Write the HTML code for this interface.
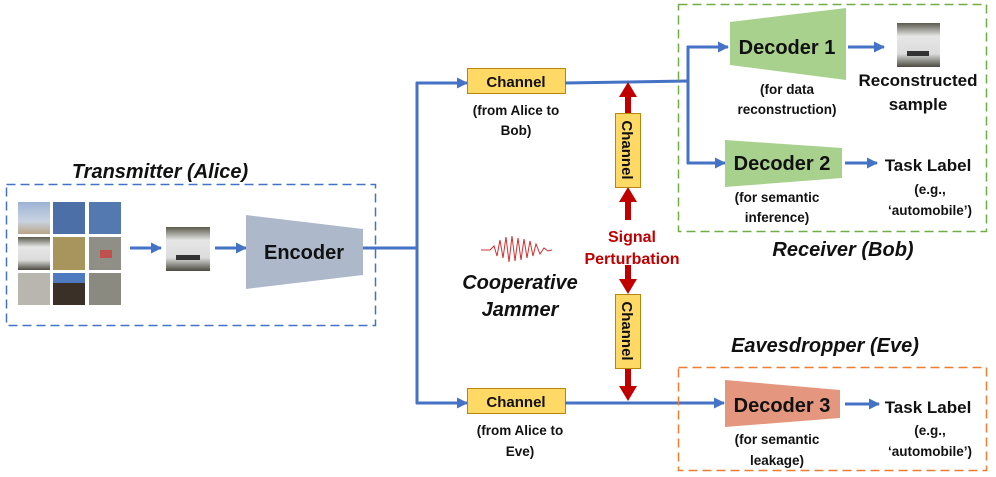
<!DOCTYPE html>
<html><head><meta charset="utf-8"><style>
html,body{margin:0;padding:0;background:#fff;}
svg{display:block;font-family:"Liberation Sans",sans-serif;}
.b{font-weight:bold;fill:#111;}
.i{font-weight:bold;font-style:italic;fill:#111;}
</style></head><body>
<svg width="996" height="477" viewBox="0 0 996 477" xmlns="http://www.w3.org/2000/svg">
<defs>
<marker id="ab" markerWidth="11" markerHeight="11" refX="10" refY="5.5" orient="auto" markerUnits="userSpaceOnUse"><path d="M0,0 L11,5.5 L0,11 z" fill="#4472c4"/></marker>
<linearGradient id="sky" x1="0" y1="0" x2="0" y2="1"><stop offset="0" stop-color="#9db3d6"/><stop offset="0.6" stop-color="#c9d3e0"/><stop offset="1" stop-color="#b8a588"/></linearGradient>
<linearGradient id="car" x1="0" y1="0" x2="0" y2="1"><stop offset="0" stop-color="#5a5a4c"/><stop offset="0.3" stop-color="#e6e6e6"/><stop offset="0.7" stop-color="#dcdcdc"/><stop offset="1" stop-color="#4a4a40"/></linearGradient>
</defs>

<!-- Transmitter -->
<text x="160" y="178" font-size="20" class="i" text-anchor="middle">Transmitter (Alice)</text>
<rect x="6.5" y="184.5" width="369" height="141" fill="none" stroke="#4472c4" stroke-width="1.5" stroke-dasharray="9,5"/>
<rect x="18" y="202" width="32" height="32" fill="url(#sky)"/>
<rect x="53" y="202" width="32" height="32" fill="#4d6fa8"/>
<rect x="89" y="202" width="32" height="32" fill="#5479b0"/>
<rect x="18" y="237" width="32" height="33" fill="url(#car)"/>
<rect x="53" y="237" width="32" height="33" fill="#a8955c"/>
<rect x="89" y="237" width="32" height="33" fill="#8f8f88"/>
<rect x="100" y="250" width="12" height="8" fill="#c0504d"/>
<rect x="18" y="273" width="32" height="32" fill="#b9b6b0"/>
<rect x="53" y="273" width="32" height="32" fill="#3b3028"/>
<rect x="53" y="273" width="32" height="10" fill="#4f7ac0"/>
<rect x="89" y="273" width="32" height="32" fill="#8a8a80"/>
<line x1="130" y1="248" x2="161" y2="248" stroke="#4472c4" stroke-width="3" marker-end="url(#ab)"/>
<rect x="166" y="227" width="44" height="44" fill="url(#car)"/>
<rect x="176" y="255" width="24" height="5" fill="#333"/>
<line x1="215" y1="248" x2="246" y2="248" stroke="#4472c4" stroke-width="3" marker-end="url(#ab)"/>
<polygon points="246,215 363,229 363,275 246,289" fill="#adb9ca"/>
<text x="304" y="259" font-size="20" class="b" text-anchor="middle">Encoder</text>

<polyline points="363,248 417,248" fill="none" stroke="#4472c4" stroke-width="3"/>
<line x1="417" y1="82" x2="417" y2="404" stroke="#4472c4" stroke-width="3"/>
<line x1="416" y1="83" x2="467" y2="83" stroke="#4472c4" stroke-width="3" marker-end="url(#ab)"/>
<line x1="416" y1="403" x2="467" y2="403" stroke="#4472c4" stroke-width="3" marker-end="url(#ab)"/>

<rect x="467.5" y="68.5" width="98" height="25" fill="#ffd966" stroke="#b8860b"/>
<text x="516" y="87" font-size="15" class="b" text-anchor="middle">Channel</text>
<text x="516" y="115" font-size="13.5" class="b" text-anchor="middle">(from Alice to</text>
<text x="516" y="135" font-size="13.5" class="b" text-anchor="middle">Bob)</text>
<rect x="467.5" y="388.5" width="98" height="25" fill="#ffd966" stroke="#b8860b"/>
<text x="516" y="407" font-size="15" class="b" text-anchor="middle">Channel</text>
<text x="520" y="435" font-size="13.5" class="b" text-anchor="middle">(from Alice to</text>
<text x="520" y="456" font-size="13.5" class="b" text-anchor="middle">Eve)</text>

<polyline points="565,83 688,81" fill="none" stroke="#4472c4" stroke-width="3"/>
<line x1="688" y1="46" x2="688" y2="164" stroke="#4472c4" stroke-width="3"/>
<line x1="687" y1="47" x2="728" y2="47" stroke="#4472c4" stroke-width="3" marker-end="url(#ab)"/>
<line x1="687" y1="163" x2="725" y2="163" stroke="#4472c4" stroke-width="3" marker-end="url(#ab)"/>
<line x1="565" y1="403" x2="724" y2="403" stroke="#4472c4" stroke-width="3" marker-end="url(#ab)"/>

<g fill="#c00000">
<rect x="625" y="95" width="6" height="20"/><polygon points="619,97 637,97 628,82"/>
<rect x="625" y="200" width="6" height="20"/><polygon points="619,202 637,202 628,187"/>
<rect x="625" y="265" width="6" height="16"/><polygon points="619,279 637,279 628,294"/>
<rect x="625" y="368" width="6" height="20"/><polygon points="619,386 637,386 628,401"/>
</g>
<rect x="615.5" y="113.5" width="25" height="74" fill="#ffd966" stroke="#b8860b"/>
<text transform="translate(622,150) rotate(90)" font-size="15" class="b" text-anchor="middle">Channel</text>
<rect x="615.5" y="294.5" width="25" height="74" fill="#ffd966" stroke="#b8860b"/>
<text transform="translate(622,331) rotate(90)" font-size="15" class="b" text-anchor="middle">Channel</text>
<text x="632" y="242" font-size="16" font-weight="bold" fill="#c00000" text-anchor="middle">Signal</text>
<text x="632" y="264" font-size="16" font-weight="bold" fill="#c00000" text-anchor="middle">Perturbation</text>
<polyline points="481,250 490,250 494,246 497,256 500,240 503,258 506,237 509,262 512,236 515,261 518,238 521,260 524,239 527,258 530,241 533,256 536,244 540,254 544,248 548,251 552,250" fill="none" stroke="#d03030" stroke-width="1"/>
<text x="520" y="289" font-size="20" class="i" text-anchor="middle">Cooperative</text>
<text x="520" y="316" font-size="20" class="i" text-anchor="middle">Jammer</text>

<rect x="678.5" y="4.5" width="308" height="227" fill="none" stroke="#70ad47" stroke-width="1.5" stroke-dasharray="9,5"/>
<polygon points="730,22 846,8 846,80 730,65" fill="#a9d18e"/>
<text x="787" y="54" font-size="20" class="b" text-anchor="middle">Decoder 1</text>
<text x="787" y="94" font-size="13.5" class="b" text-anchor="middle">(for data</text>
<text x="787" y="114" font-size="13.5" class="b" text-anchor="middle">reconstruction)</text>
<line x1="848" y1="47" x2="884" y2="47" stroke="#4472c4" stroke-width="3" marker-end="url(#ab)"/>
<rect x="897" y="23" width="43" height="44" fill="url(#car)"/>
<rect x="907" y="51" width="22" height="5" fill="#333"/>
<text x="918" y="86" font-size="17" class="b" text-anchor="middle">Reconstructed</text>
<text x="918" y="110" font-size="17" class="b" text-anchor="middle">sample</text>
<polygon points="725,140 842,148 842,178 725,187" fill="#a9d18e"/>
<text x="782" y="170" font-size="20" class="b" text-anchor="middle">Decoder 2</text>
<text x="777" y="202" font-size="13.5" class="b" text-anchor="middle">(for semantic</text>
<text x="777" y="222" font-size="13.5" class="b" text-anchor="middle">inference)</text>
<line x1="845" y1="163" x2="877" y2="163" stroke="#4472c4" stroke-width="3" marker-end="url(#ab)"/>
<text x="928" y="171" font-size="17" class="b" text-anchor="middle">Task Label</text>
<text x="930" y="194" font-size="13.5" class="b" text-anchor="middle">(e.g.,</text>
<text x="930" y="215" font-size="13.5" class="b" text-anchor="middle">‘automobile’)</text>
<text x="843" y="256" font-size="20" class="i" text-anchor="middle">Receiver (Bob)</text>

<text x="825" y="352" font-size="20" class="i" text-anchor="middle">Eavesdropper (Eve)</text>
<rect x="678.5" y="367.5" width="308" height="103" fill="none" stroke="#ed7d31" stroke-width="1.5" stroke-dasharray="9,5"/>
<polygon points="725,380 840,390 840,418 725,427" fill="#e5967f"/>
<text x="782" y="412" font-size="20" class="b" text-anchor="middle">Decoder 3</text>
<text x="777" y="444" font-size="13.5" class="b" text-anchor="middle">(for semantic</text>
<text x="777" y="465" font-size="13.5" class="b" text-anchor="middle">leakage)</text>
<line x1="845" y1="404" x2="879" y2="404" stroke="#4472c4" stroke-width="3" marker-end="url(#ab)"/>
<text x="928" y="413" font-size="17" class="b" text-anchor="middle">Task Label</text>
<text x="930" y="435" font-size="13.5" class="b" text-anchor="middle">(e.g.,</text>
<text x="930" y="456" font-size="13.5" class="b" text-anchor="middle">‘automobile’)</text>
</svg>
</body></html>
